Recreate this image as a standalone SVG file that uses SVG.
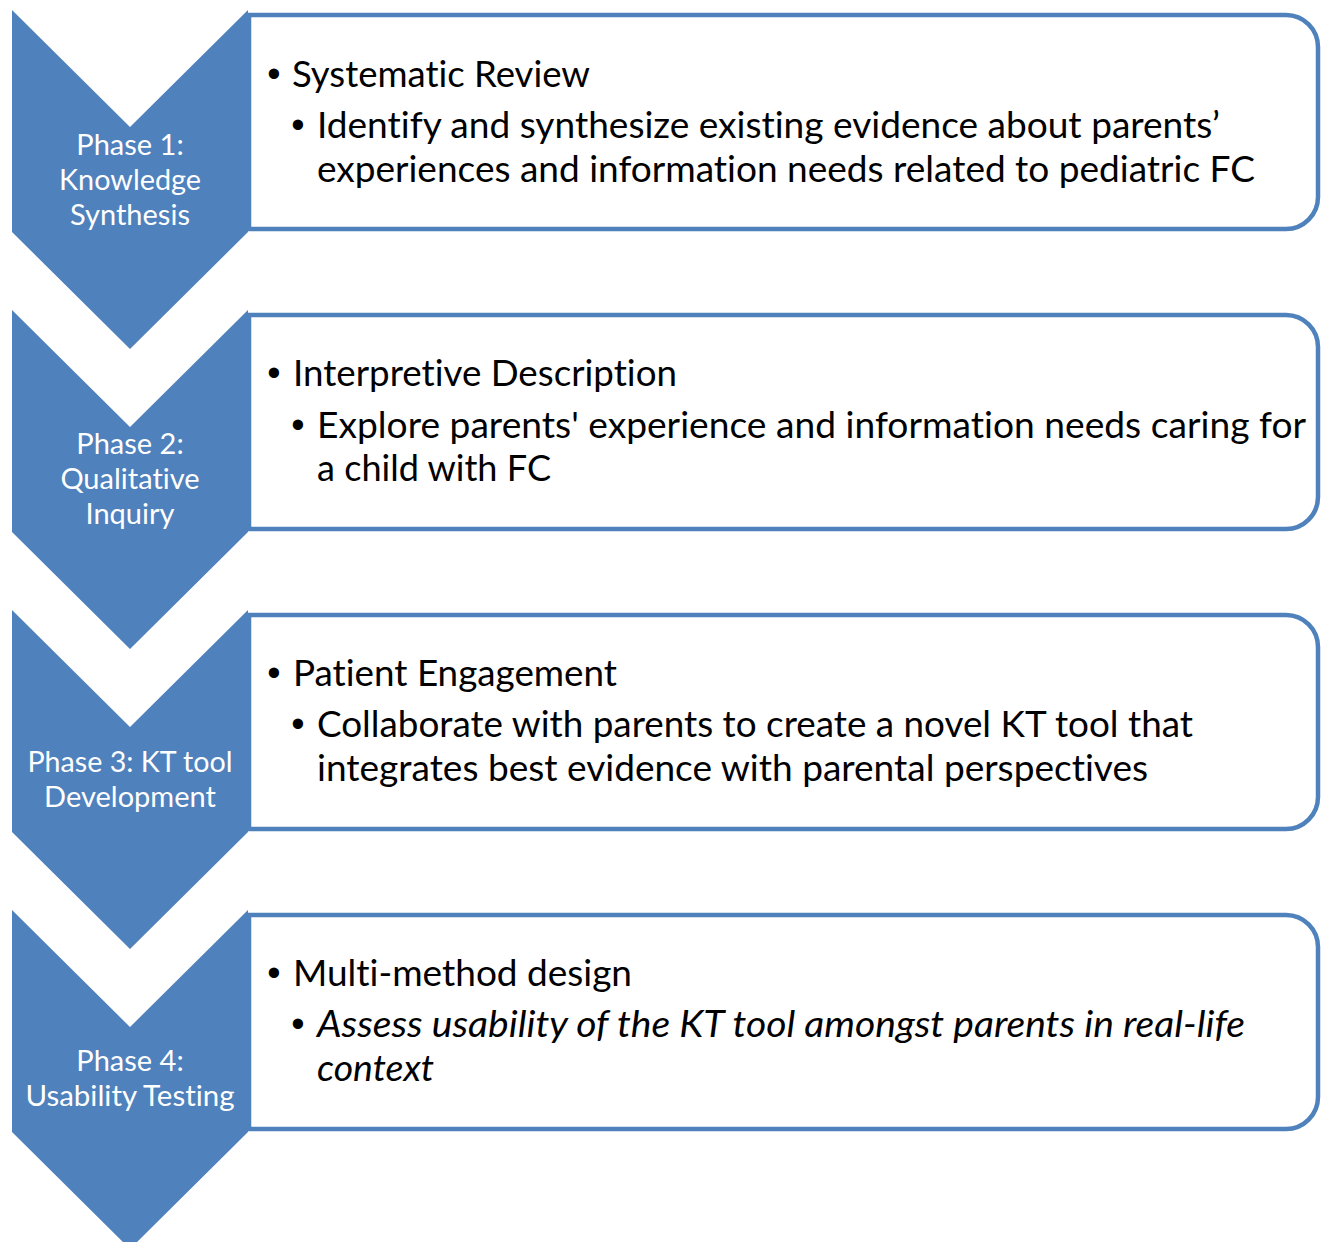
<svg xmlns="http://www.w3.org/2000/svg" width="1323" height="1242" viewBox="0 0 1323 1242">
  <style>
    text { font-variant-ligatures: none; }
    .chev { fill: #4F81BD; }
    .box { fill: #FFFFFF; stroke: #4F81BD; stroke-width: 4.5; }
    .lbl { font-family: Lato, "Liberation Sans", sans-serif; font-size: 29px; fill: #FFFFFF; text-anchor: middle; }
    .t1 { font-family: Lato, "Liberation Sans", sans-serif; font-size: 36px; fill: #000000; }
    .t2 { font-family: Lato, "Liberation Sans", sans-serif; font-size: 36px; fill: #000000; }
    .it { font-style: italic; }
    .bul { font-family: "Liberation Sans", sans-serif; font-size: 38px; fill: #000000; text-anchor: middle; }
  </style>
  <defs>
    <path id="chevron" d="M12,10 L130,127 L248,10 V232 L130,349 L12,232 Z"/>
    <path id="panel" d="M249,15 H1286 A32,32 0 0 1 1318,47 V197 A32,32 0 0 1 1286,229 H249 Z"/>
  </defs>

  <!-- Phase 1 -->
  <g id="phase1">
    <use href="#panel" class="box"/>
    <use href="#chevron" class="chev"/>
    <text class="lbl" x="130" y="155">Phase 1:</text>
    <text class="lbl" x="130" y="190" textLength="142" lengthAdjust="spacingAndGlyphs">Knowledge</text>
    <text class="lbl" x="130" y="225">Synthesis</text>
    <text class="bul" x="274" y="87">•</text>
    <text class="t1" x="292" y="87" textLength="298" lengthAdjust="spacingAndGlyphs">Systematic Review</text>
    <text class="bul" x="298" y="138">•</text>
    <text class="t2" x="317" y="138" textLength="903" lengthAdjust="spacingAndGlyphs">Identify and synthesize existing evidence about parents’</text>
    <text class="t2" x="317" y="182" textLength="938" lengthAdjust="spacingAndGlyphs">experiences and information needs related to pediatric FC</text>
  </g>

  <!-- Phase 2 -->
  <g id="phase2" transform="translate(0,300)">
    <use href="#panel" class="box"/>
    <use href="#chevron" class="chev"/>
    <text class="lbl" x="130" y="154">Phase 2:</text>
    <text class="lbl" x="130" y="189">Qualitative</text>
    <text class="lbl" x="130" y="224">Inquiry</text>
    <text class="bul" x="274" y="86">•</text>
    <text class="t1" x="293" y="86" textLength="384" lengthAdjust="spacingAndGlyphs">Interpretive Description</text>
    <text class="bul" x="298" y="138">•</text>
    <text class="t2" x="317" y="138" textLength="989" lengthAdjust="spacingAndGlyphs">Explore parents' experience and information needs caring for</text>
    <text class="t2" x="317" y="181" textLength="234" lengthAdjust="spacingAndGlyphs">a child with FC</text>
  </g>

  <!-- Phase 3 -->
  <g id="phase3" transform="translate(0,600)">
    <use href="#panel" class="box"/>
    <use href="#chevron" class="chev"/>
    <text class="lbl" x="130" y="172" textLength="205" lengthAdjust="spacingAndGlyphs">Phase 3: KT tool</text>
    <text class="lbl" x="130" y="207">Development</text>
    <text class="bul" x="274" y="86">•</text>
    <text class="t1" x="293" y="86" textLength="324" lengthAdjust="spacingAndGlyphs">Patient Engagement</text>
    <text class="bul" x="298" y="137">•</text>
    <text class="t2" x="317" y="137" textLength="876" lengthAdjust="spacingAndGlyphs">Collaborate with parents to create a novel KT tool that</text>
    <text class="t2" x="317" y="181" textLength="831" lengthAdjust="spacingAndGlyphs">integrates best evidence with parental perspectives</text>
  </g>

  <!-- Phase 4 -->
  <g id="phase4" transform="translate(0,900)">
    <use href="#panel" class="box"/>
    <use href="#chevron" class="chev"/>
    <text class="lbl" x="130" y="171">Phase 4:</text>
    <text class="lbl" x="130" y="206" textLength="209" lengthAdjust="spacingAndGlyphs">Usability Testing</text>
    <text class="bul" x="274" y="86">•</text>
    <text class="t1" x="293" y="86" textLength="339" lengthAdjust="spacingAndGlyphs">Multi-method design</text>
    <text class="bul" x="298" y="137">•</text>
    <text class="t2 it" x="317" y="137" textLength="928" lengthAdjust="spacingAndGlyphs">Assess usability of the KT tool amongst parents in real-life</text>
    <text class="t2 it" x="317" y="181" textLength="117" lengthAdjust="spacingAndGlyphs">context</text>
  </g>
</svg>
